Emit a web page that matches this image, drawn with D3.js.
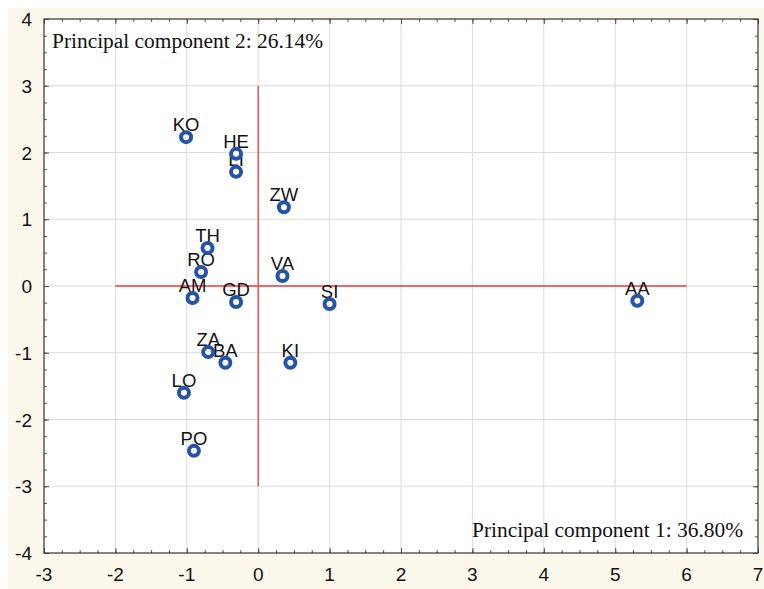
<!DOCTYPE html>
<html>
<head>
<meta charset="utf-8">
<script src="https://cdn.jsdelivr.net/npm/d3@7"></script>
<style>
body{margin:0;background:#fff;}
svg{display:block;}
</style>
</head>
<body>
<div id="root"></div>
<script>
// scores on the first two principal components
var labels=['KO','HE','LI','ZW','TH','RO','VA','AM','GD','SI','AA','ZA','BA','KI','LO','PO'];
var pc1=[-1.01,-0.31,-0.31,0.36,-0.71,-0.80,0.34,-0.92,-0.31,1.00,5.31,-0.70,-0.46,0.45,-1.04,-0.90];
var pc2=[2.23,1.98,1.71,1.18,0.57,0.21,0.15,-0.18,-0.24,-0.27,-0.22,-0.99,-1.15,-1.15,-1.60,-2.47];
var xTicks=[-3,-2,-1,0,1,2,3,4,5,6,7];
var yTicks=[-4,-3,-2,-1,0,1,2,3,4];
var pcText1='Principal component 1: 36.80%';
var pcText2='Principal component 2: 26.14%';

var W=764,H=589;
var margin={t:19,r:6,b:36,l:44};
var w=758-margin.l, h=553-margin.t;

var svg=d3.select('#root').append('svg').attr('width',W).attr('height',H);
svg.append('rect').attr('x',8).attr('y',8).attr('width',W-8).attr('height',H-8).attr('fill','#fdf8ec');

var g=svg.append('g').attr('transform','translate('+margin.l+','+margin.t+')');

var xScale=d3.scaleLinear().domain([-3,7]).range([0,w]);
var yScale=d3.scaleLinear().domain([-4,4]).range([h,0]);

g.append('rect').attr('width',w).attr('height',h).attr('fill','#fff');

// grid
g.selectAll('.gx').data(xTicks.slice(1,-1)).enter().append('line')
  .attr('x1',d=>xScale(d)).attr('x2',d=>xScale(d)).attr('y1',0).attr('y2',h)
  .attr('stroke','#dcdcdc').attr('stroke-width',1);
g.selectAll('.gy').data(yTicks.slice(1,-1)).enter().append('line')
  .attr('y1',d=>yScale(d)).attr('y2',d=>yScale(d)).attr('x1',0).attr('x2',w)
  .attr('stroke','#dcdcdc').attr('stroke-width',1);

// axes with inward ticks
var minorX=d3.range(-3,7.001,0.25), minorY=d3.range(-4,4.001,0.25);
function axisStyle(sel){
  sel.select('.domain').remove();
  sel.selectAll('.tick line').attr('stroke','#555');
  sel.selectAll('text').remove();
}
g.append('g').attr('transform','translate(0,'+h+')').call(d3.axisBottom(xScale).tickValues(minorX).tickSizeInner(-3).tickSizeOuter(0)).call(axisStyle);
g.append('g').attr('transform','translate(0,'+h+')').call(d3.axisBottom(xScale).tickValues(xTicks).tickSizeInner(-5).tickSizeOuter(0)).call(axisStyle);
g.append('g').call(d3.axisTop(xScale).tickValues(minorX).tickSizeInner(-3).tickSizeOuter(0)).call(axisStyle);
g.append('g').call(d3.axisTop(xScale).tickValues(xTicks).tickSizeInner(-5).tickSizeOuter(0)).call(axisStyle);
g.append('g').call(d3.axisLeft(yScale).tickValues(minorY).tickSizeInner(-3).tickSizeOuter(0)).call(axisStyle);
g.append('g').call(d3.axisLeft(yScale).tickValues(yTicks).tickSizeInner(-5).tickSizeOuter(0)).call(axisStyle);
g.append('g').attr('transform','translate('+w+',0)').call(d3.axisRight(yScale).tickValues(minorY).tickSizeInner(-3).tickSizeOuter(0)).call(axisStyle);
g.append('g').attr('transform','translate('+w+',0)').call(d3.axisRight(yScale).tickValues(yTicks).tickSizeInner(-5).tickSizeOuter(0)).call(axisStyle);

g.append('rect').attr('width',w).attr('height',h).attr('fill','none').attr('stroke','#333').attr('stroke-width',1.2);

// tick labels
g.selectAll('.xl').data(xTicks).enter().append('text')
  .attr('x',d=>xScale(d)).attr('y',h+28).attr('text-anchor','middle')
  .style('font-family','Liberation Sans, Arial, sans-serif').style('font-size','19px').attr('fill','#111')
  .text(d=>d);
g.selectAll('.yl').data(yTicks).enter().append('text')
  .attr('x',-12).attr('y',d=>yScale(d)+7).attr('text-anchor','end')
  .style('font-family','Liberation Sans, Arial, sans-serif').style('font-size','19px').attr('fill','#111')
  .text(d=>d);

// red reference lines
g.append('line').attr('x1',xScale(-2)).attr('x2',xScale(6)).attr('y1',yScale(0)).attr('y2',yScale(0))
  .attr('stroke','#f03c3c').attr('stroke-width',1.3);
g.append('line').attr('x1',xScale(0)).attr('x2',xScale(0)).attr('y1',yScale(-3)).attr('y2',yScale(3))
  .attr('stroke','#f03c3c').attr('stroke-width',1.3);

var pts=labels.map((d,i)=>({name:d,x:pc1[i],y:pc2[i]}));

g.selectAll('.lab').data(pts).enter().append('text')
  .attr('x',d=>xScale(d.x)).attr('y',d=>yScale(d.y)-6).attr('text-anchor','middle')
  .style('font-family','Liberation Sans, Arial, sans-serif').style('font-size','18.5px').attr('fill','#111')
  .text(d=>d.name);

g.selectAll('.pt').data(pts).enter().append('circle')
  .attr('cx',d=>xScale(d.x)).attr('cy',d=>yScale(d.y)).attr('r',5)
  .attr('fill','#fff').attr('stroke','#2553a8').attr('stroke-width',4);

// component labels
svg.append('text').attr('x',52).attr('y',48).attr('textLength',271).attr('lengthAdjust','spacingAndGlyphs')
  .style('font-family','Liberation Serif, Times New Roman, serif').style('font-size','20px').attr('fill','#111')
  .text(pcText2);
svg.append('text').attr('x',472).attr('y',537).attr('textLength',271).attr('lengthAdjust','spacingAndGlyphs')
  .style('font-family','Liberation Serif, Times New Roman, serif').style('font-size','20px').attr('fill','#111')
  .text(pcText1);
</script>
</body>
</html>
